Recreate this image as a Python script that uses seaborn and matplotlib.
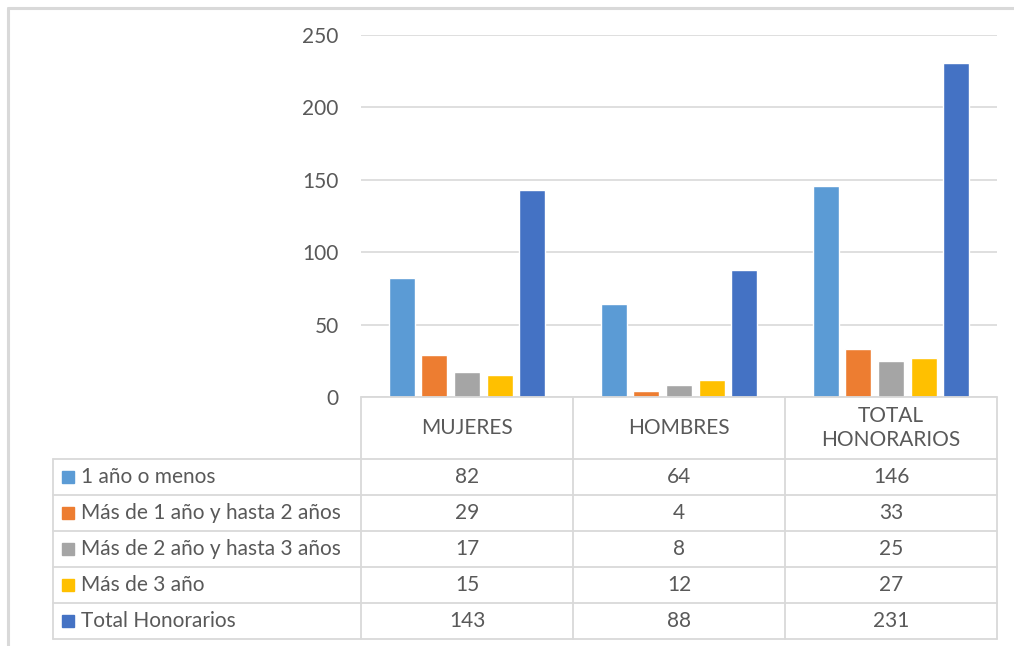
import pandas as pd
import matplotlib.pyplot as plt
import seaborn as sns
from matplotlib.lines import Line2D
from matplotlib.patches import Rectangle

# Data
categories = ['MUJERES', 'HOMBRES', 'TOTAL\nHONORARIOS']
series = ['1 año o menos', 'Más de 1 año y hasta 2 años', 'Más de 2 año y hasta 3 años',
          'Más de 3 año', 'Total Honorarios']
values = {
    '1 año o menos': [82, 64, 146],
    'Más de 1 año y hasta 2 años': [29, 4, 33],
    'Más de 2 año y hasta 3 años': [17, 8, 25],
    'Más de 3 año': [15, 12, 27],
    'Total Honorarios': [143, 88, 231],
}
colors = ['#5B9BD5', '#ED7D31', '#A5A5A5', '#FFC000', '#4472C4']
yticks = [0, 50, 100, 150, 200, 250]

W, H = 1014, 646
TXT = '#595959'
GRID = '#D9D9D9'
FS = 15

sns.set_theme(style='white')
plt.rcParams['font.family'] = ['Lato', 'DejaVu Sans']

rows = []
for s in series:
    for c, v in zip(categories, values[s]):
        rows.append({'cat': c, 'serie': s, 'valor': v})
df = pd.DataFrame(rows)

fig = plt.figure(figsize=(W / 100, H / 100), dpi=100)


def fx(px):
    return px / W


def fy(py):
    return 1 - py / H


# plot area
x0, x1, ytop, ybot = 361, 997, 35, 397
ax = fig.add_axes([fx(x0), fy(ybot), fx(x1) - fx(x0), fy(ytop) - fy(ybot)])
sns.barplot(data=df, x='cat', y='valor', hue='serie', order=categories, hue_order=series,
            palette=colors, width=0.77, gap=0.2, saturation=1, ax=ax, legend=False)
ax.set_xlim(-0.5, 2.5)
ax.set_ylim(0, 250)
ax.set_yticks(yticks)
ax.set_yticklabels([str(t) for t in yticks], color=TXT, fontsize=FS)
ax.tick_params(axis='y', length=0, pad=16)
ax.set_xticks([])
ax.set_xlabel('')
ax.set_ylabel('')
ax.grid(axis='y', color=GRID, linewidth=1.2)
ax.set_axisbelow(True)
for sp in ax.spines.values():
    sp.set_visible(False)


def hline(y, xa, xb, lw=1.3):
    fig.add_artist(Line2D([fx(xa), fx(xb)], [fy(y), fy(y)], color=GRID, lw=lw))


def vline(x, ya, yb, lw=1.3):
    fig.add_artist(Line2D([fx(x), fx(x)], [fy(ya), fy(yb)], color=GRID, lw=lw))


# outer frame of the chart object
hline(8, 8, W, lw=2.2)
vline(8, 8, H, lw=2.2)

# data table
col_edges = [361, 573, 785, 997]
row_edges = [459, 495, 531, 567, 603, 639]
tab_left = 53
hline(ybot, col_edges[0], col_edges[-1])
for y in row_edges:
    hline(y, tab_left, col_edges[-1])
for x in col_edges:
    vline(x, ybot, row_edges[-1])
vline(tab_left, row_edges[0], row_edges[-1])

for i, c in enumerate(categories):
    cx = (col_edges[i] + col_edges[i + 1]) / 2
    fig.text(fx(cx), fy((ybot + row_edges[0]) / 2), c, ha='center', va='center',
             color=TXT, fontsize=FS, linespacing=1.25)

for j, s in enumerate(series):
    cy = (row_edges[j] + row_edges[j + 1]) / 2
    fig.add_artist(Rectangle((fx(62), fy(cy + 6)), fx(12), 12 / H, color=colors[j],
                             transform=fig.transFigure))
    fig.text(fx(81), fy(cy), s, ha='left', va='center', color=TXT, fontsize=FS)
    for i, v in enumerate(values[s]):
        cx = (col_edges[i] + col_edges[i + 1]) / 2
        fig.text(fx(cx), fy(cy), str(v), ha='center', va='center', color=TXT, fontsize=FS)

fig.savefig('out.png', dpi=100)
